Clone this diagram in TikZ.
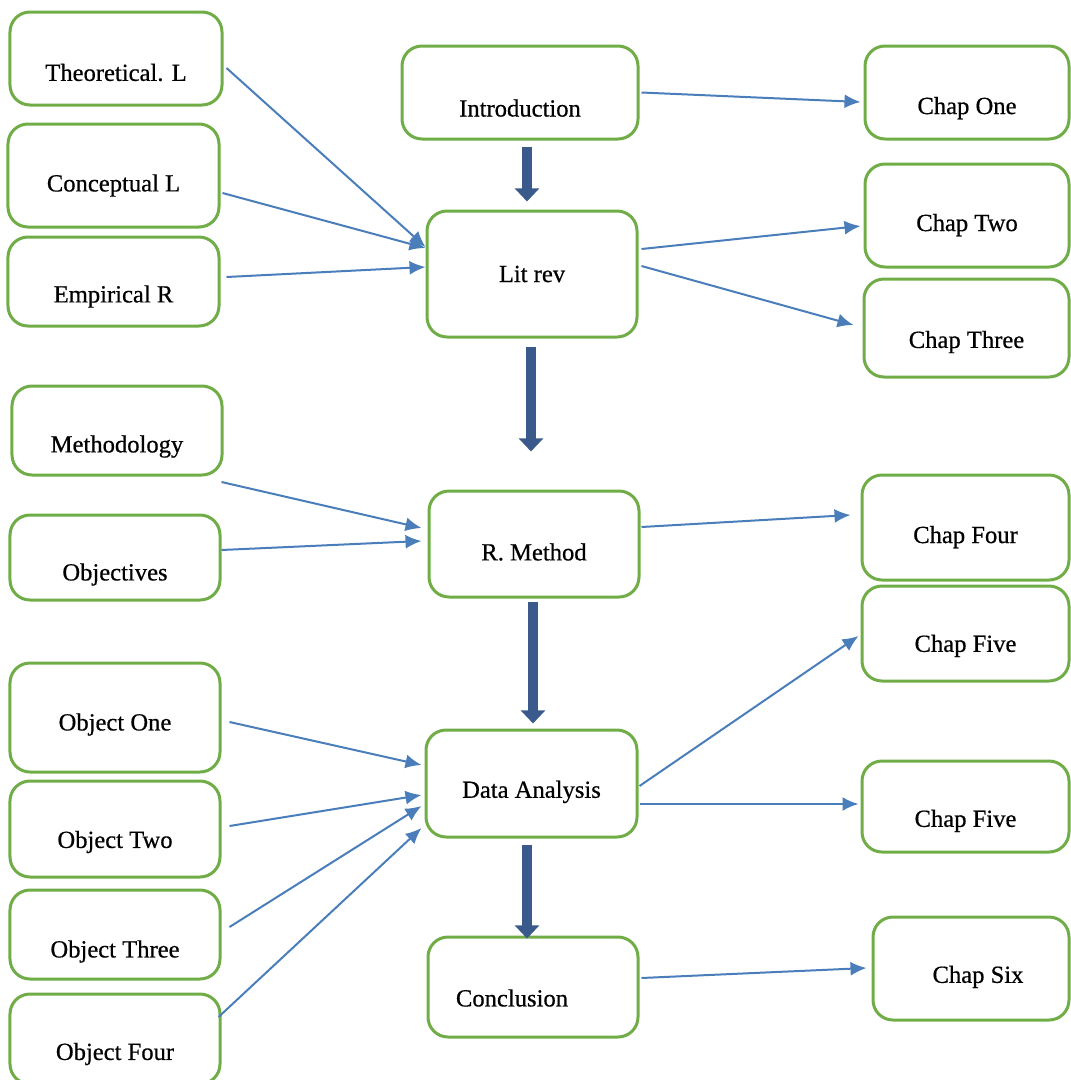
\documentclass[tikz,border=0pt]{standalone}
\usepackage{fontspec}
\setmainfont{Liberation Serif}[BoldFont={Liberation Serif},BoldFeatures={FakeBold=0.6}]
\usepackage{tikz}
\usetikzlibrary{arrows.meta,calc}
\definecolor{green}{HTML}{70AD47}
\definecolor{blue}{HTML}{4A7EBB}
\definecolor{navy}{HTML}{3A5A8C}
\tikzset{
  >={Latex[length=4mm,width=3.5mm]},
  flow/.style={->,draw=blue,line width=.5mm},
  bigflow/.style={-{Triangle[length=3.3mm,width=6mm]},draw=navy,line width=2.6mm},
  box/.style={draw=green,line width=.75mm,rounded corners=5mm,fill=white,inner sep=0pt},
  lbl/.style={font=\fontsize{17.5}{20}\selectfont\bfseries,inner sep=0pt},
}
\begin{document}
\begin{tikzpicture}[x=.25mm,y=-.25mm]
  \useasboundingbox (0,0) rectangle (1071,1080);
  % left column
  \node[box,minimum width=53mm,minimum height=23.25mm,label={[lbl,yshift=-3.5mm]center:Theoretical. L}] (theo) at (116,58.5) {};
  \node[box,minimum width=52.75mm,minimum height=25.75mm,label={[lbl,yshift=-2.5mm]center:Conceptual L}] (conc) at (113.5,175.5) {};
  \node[box,minimum width=52.75mm,minimum height=22.25mm,label={[lbl,yshift=-3.75mm]center:Empirical R}] (emp) at (113.5,281.5) {};
  \node[box,minimum width=52.5mm,minimum height=22.25mm,label={[lbl,yshift=-4mm]center:Methodology}] (meth) at (117,430.5) {};
  \node[box,minimum width=52.5mm,minimum height=21.25mm,label={[lbl,yshift=-4.25mm]center:Objectives}] (obj) at (115,557.5) {};
  \node[box,minimum width=52.5mm,minimum height=27.25mm,label={[lbl,yshift=-1.75mm]center:Object One}] (o1) at (115,717.5) {};
  \node[box,minimum width=52.5mm,minimum height=24mm,label={[lbl,yshift=-3.25mm]center:Object Two}] (o2) at (115,829) {};
  \node[box,minimum width=52.5mm,minimum height=22.25mm,label={[lbl,yshift=-4.25mm]center:Object Three}] (o3) at (115,934.5) {};
  \node[box,minimum width=52.5mm,minimum height=22.5mm,label={[lbl,yshift=-3.75mm]center:Object Four}] (o4) at (115,1039) {};
  % centre column
  \node[box,minimum width=59mm,minimum height=23.25mm,label={[lbl,yshift=-3.9mm]center:Introduction}] (intro) at (520,92.5) {};
  \node[box,minimum width=52.5mm,minimum height=31.5mm,label={[lbl]center:Lit rev}] (lit) at (532,274) {};
  \node[box,minimum width=52.5mm,minimum height=26.5mm,label={[lbl,yshift=-2mm]center:R. Method}] (rm) at (534,544) {};
  \node[box,minimum width=52.75mm,minimum height=26.75mm,label={[lbl,yshift=-2.1mm]center:Data Analysis}] (da) at (531.5,783.5) {};
  \node[box,minimum width=52.5mm,minimum height=25mm,label={[lbl,xshift=-5.25mm,yshift=-2.75mm]center:Conclusion}] (concl) at (533,987) {};
  % right column
  \node[box,minimum width=51mm,minimum height=23.25mm,label={[lbl,yshift=-3.9mm]center:Chap One}] (c1) at (967,92.5) {};
  \node[box,minimum width=51mm,minimum height=25.75mm,label={[lbl,yshift=-2.4mm]center:Chap Two}] (c2) at (967,215.5) {};
  \node[box,minimum width=51.25mm,minimum height=24.5mm,label={[lbl,yshift=-3.5mm]center:Chap Three}] (c3) at (966.5,328) {};
  \node[box,minimum width=51.75mm,minimum height=26.25mm,label={[lbl,yshift=-2.4mm]center:Chap Four}] (c4) at (965.5,527.5) {};
  \node[box,minimum width=51.75mm,minimum height=23.75mm,label={[lbl,yshift=-3.1mm]center:Chap Five}] (c5) at (965.5,633.5) {};
  \node[box,minimum width=51.75mm,minimum height=22.75mm,label={[lbl,yshift=-3.6mm]center:Chap Five}] (c5b) at (965.5,806.5) {};
  \node[box,minimum width=49mm,minimum height=25.75mm,label={[lbl,xshift=1.75mm,yshift=-2.1mm]center:Chap Six}] (c6) at (971,968.5) {};
  % main line
  \draw[bigflow] ($(intro.south)+(7,6)$) -- ($(lit.north)+(-5,-8)$);
  \draw[bigflow] ($(lit.south)+(-1,8)$) -- ($(rm.north)+(-3,-38)$);
  \draw[bigflow] ($(rm.south)+(-1,3)$) -- ($(da.north)+(1.5,-5)$);
  \draw[bigflow] ($(da.south)+(-4.5,6)$) -- ($(concl.north)+(-6,3)$);
  % inputs
  \draw[flow] ($(theo.east)+(3,9.5)$) -- ($(lit.west)+(0,-27)$);
  \draw[flow] ($(conc.east)+(2,17.5)$) -- ($(lit.west)+(0,-26)$);
  \draw[flow] ($(emp.east)+(6,-4.5)$) -- ($(lit.west)+(0,-7)$);
  \draw[flow] ($(meth.east)+(-2,51.5)$) -- ($(rm.west)+(-6,-16)$);
  \draw[flow] ($(obj.east)+(0,-7.5)$) -- ($(rm.west)+(-6,-3)$);
  \draw[flow] ($(o1.east)+(8,4.5)$) -- ($(da.west)+(-3,-18.5)$);
  \draw[flow] ($(o2.east)+(8,-3)$) -- ($(da.west)+(-3,11.5)$);
  \draw[flow] ($(o3.east)+(8,-7.5)$) -- ($(da.west)+(-3,22.5)$);
  \draw[flow] ($(o4.east)+(-3,-22)$) -- ($(da.west)+(-3,44.5)$);
  % outputs
  \draw[flow] ($(intro.east)+(2,0)$) -- ($(c1.west)+(-3,9.5)$);
  \draw[flow] ($(lit.east)+(3,-25)$) -- ($(c2.west)+(-3,10.5)$);
  \draw[flow] ($(lit.east)+(3,-8)$) -- ($(c3.west)+(-9,-3)$);
  \draw[flow] ($(rm.east)+(1,-17)$) -- ($(c4.west)+(-10,-12.5)$);
  \draw[flow] ($(da.east)+(1,2.5)$) -- ($(c5.west)+(-2,2.5)$);
  \draw[flow] ($(da.east)+(1,20.5)$) -- ($(c5b.west)+(-2,-2.5)$);
  \draw[flow] ($(concl.east)+(2,-9)$) -- ($(c6.west)+(-5,-0.5)$);
\end{tikzpicture}
\end{document}
